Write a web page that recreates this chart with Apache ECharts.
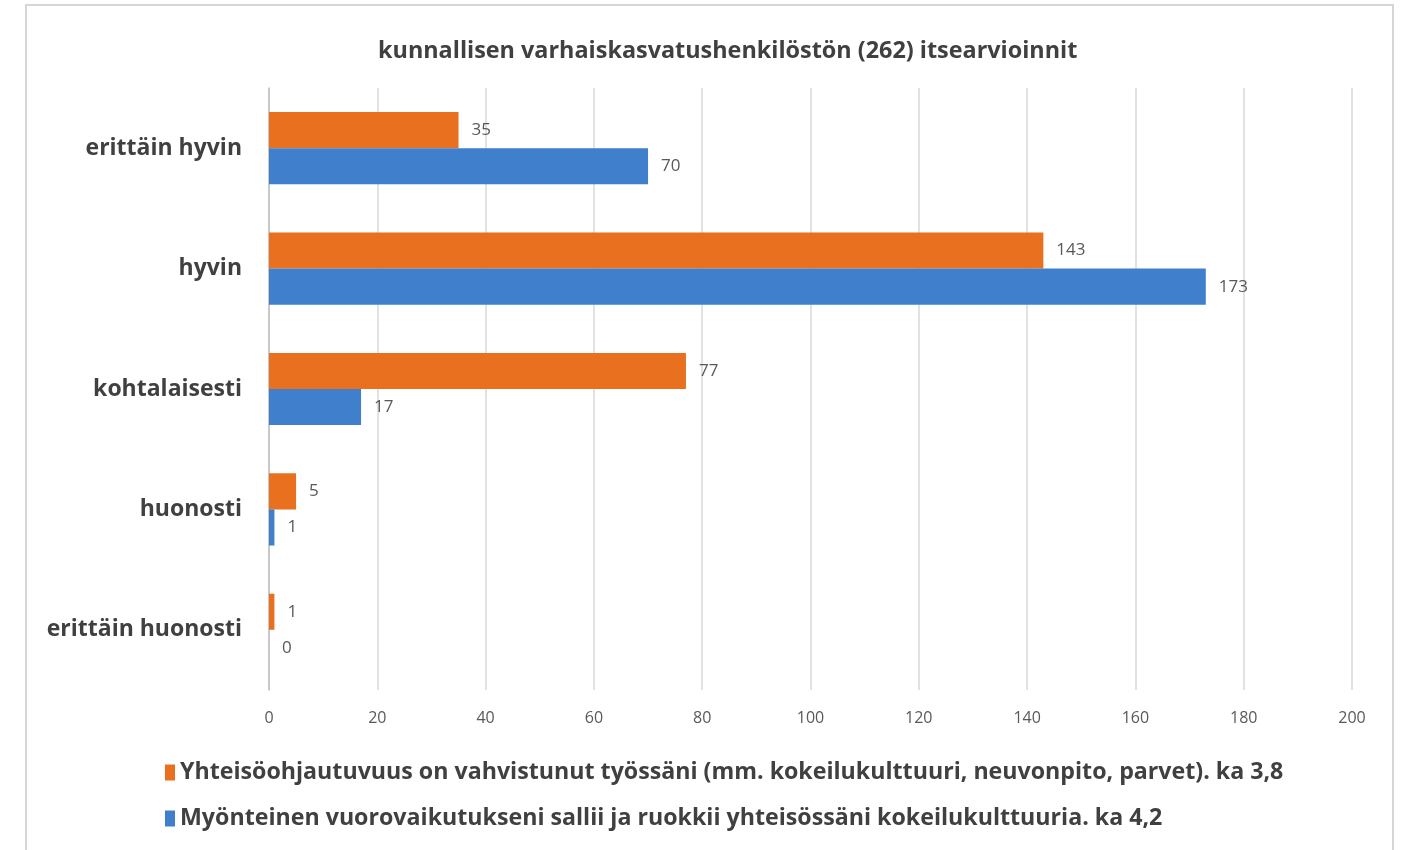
<!DOCTYPE html>
<html lang="fi" style="height: 100%">
<head>
  <meta charset="UTF-8" />
  <title>itsearvioinnit</title>
  <script src="https://cdn.jsdelivr.net/npm/echarts@6/dist/echarts.min.js"></script>
</head>
<body style="height: 100%; margin: 0; background: #fff">
  <div id="container" style="width: 1404px; height: 850px"></div>
  <script type="text/javascript">
    // vastausvaihtoehdot ylhäältä alas
    var categories = ["erittäin hyvin", "hyvin", "kohtalaisesti", "huonosti", "erittäin huonosti"];
    var orangeName = "Yhteisöohjautuvuus on vahvistunut työssäni (mm. kokeilukulttuuri, neuvonpito, parvet). ka 3,8";
    var blueName = "Myönteinen vuorovaikutukseni sallii ja ruokkii yhteisössäni kokeilukulttuuria. ka 4,2";
    var orangeData = [35, 143, 77, 5, 1];
    var blueData = [70, 173, 17, 1, 0];

    var font = "Open Sans";
    var dom = document.getElementById("container");
    var myChart = echarts.init(dom, null, { renderer: "canvas" });

    var option = {
      backgroundColor: "#fff",
      animation: false,
      title: {
        text: "kunnallisen varhaiskasvatushenkilöstön (262) itsearvioinnit",
        left: 373,
        top: 35,
        textStyle: { fontFamily: font, fontSize: 23.4, fontWeight: "bold", color: "#404040" }
      },
      graphic: [{
        type: "rect",
        shape: { x: 26, y: 5, width: 1367, height: 860 },
        style: { fill: null, stroke: "#d6d6d6", lineWidth: 2 },
        silent: true
      }],
      legend: {
        orient: "vertical",
        left: 160,
        top: 756,
        itemGap: 23,
        itemWidth: 10,
        itemHeight: 16,
        icon: "rect",
        textStyle: { fontFamily: font, fontSize: 23.2, fontWeight: "bold", color: "#404040" },
        data: [orangeName, blueName]
      },
      grid: { left: 269, right: 52, top: 88, bottom: 160, outerBoundsMode: "none" },
      xAxis: {
        type: "value",
        min: 0,
        max: 200,
        interval: 20,
        axisLine: { show: false },
        axisTick: { show: false },
        axisLabel: { margin: 20, fontFamily: font, fontSize: 16, color: "#595959" },
        splitLine: { lineStyle: { color: "#d9d9d9", width: 1.5 } }
      },
      yAxis: {
        type: "category",
        inverse: true,
        data: categories,
        axisLine: { show: true, lineStyle: { color: "#bfbfbf", width: 1.5 } },
        axisTick: { show: false },
        axisLabel: { margin: 27, fontFamily: font, fontSize: 23, fontWeight: "bold", color: "#404040" }
      },
      series: [
        {
          name: orangeName,
          type: "bar",
          data: orangeData,
          barGap: 0,
          barCategoryGap: "40%",
          itemStyle: { color: "#e8701f" },
          label: { show: true, position: "right", distance: 13, fontFamily: font, fontSize: 17, color: "#595959" }
        },
        {
          name: blueName,
          type: "bar",
          data: blueData,
          barGap: 0,
          barCategoryGap: "40%",
          itemStyle: { color: "#3f7fcb" },
          label: { show: true, position: "right", distance: 13, fontFamily: font, fontSize: 17, color: "#595959" }
        }
      ]
    };

    myChart.setOption(option);
    window.addEventListener("resize", myChart.resize);
  </script>
</body>
</html>
